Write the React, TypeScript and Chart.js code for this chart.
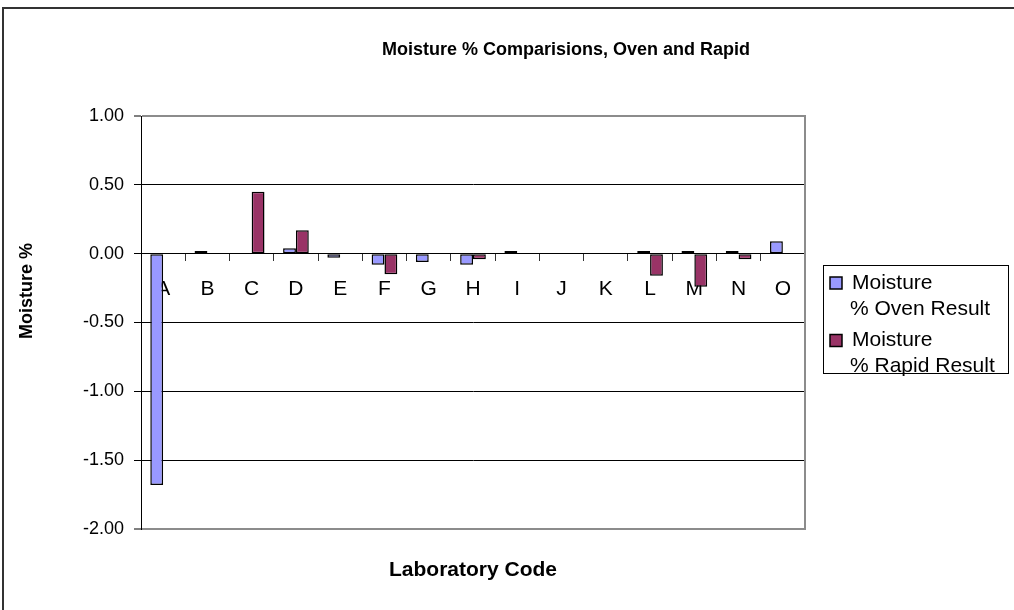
import React, { useEffect, useRef } from 'react';
import { Chart, registerables } from 'chart.js';

Chart.register(...registerables);

const categories = ['A', 'B', 'C', 'D', 'E', 'F', 'G', 'H', 'I', 'J', 'K', 'L', 'M', 'N', 'O'];
const ovenValues = [-1.68, 0.02, null, 0.04, -0.03, -0.08, -0.06, -0.08, 0.02, null, null, 0.02, 0.02, 0.02, 0.09];
const rapidValues = [null, null, 0.45, 0.17, null, -0.15, null, -0.04, null, null, null, -0.16, -0.24, -0.04, null];
const yTickValues = [1, 0.5, 0, -0.5, -1, -1.5, -2];
const seriesNames = ['Moisture % Oven Result', 'Moisture % Rapid Result'];
const legendLines = [
  ['Moisture', '% Oven Result'],
  ['Moisture', '% Rapid Result'],
];
const chartTitle = 'Moisture % Comparisions, Oven and Rapid';
const xTitle = 'Laboratory Code';
const yTitle = 'Moisture %';

const FONT = "'Liberation Sans', Arial, sans-serif";
const OVEN_COLOR = '#9999FF';
const RAPID_COLOR = '#993366';

const decorPlugin = {
  id: 'decor',
  beforeDatasetsDraw(chart: any) {
    const { ctx, chartArea: a } = chart;
    ctx.save();
    ctx.strokeStyle = '#8c8c8c';
    ctx.lineWidth = 2;
    ctx.beginPath();
    ctx.moveTo(a.right, a.top - 1);
    ctx.lineTo(a.right, a.bottom + 1);
    ctx.stroke();
    ctx.restore();
  },
  afterDraw(chart: any) {
    const { ctx, chartArea: a } = chart;
    ctx.save();
    // outer frame
    ctx.strokeStyle = '#333';
    ctx.lineWidth = 2;
    ctx.strokeRect(3, 8, 1200, 800);

    ctx.fillStyle = '#000';
    ctx.textAlign = 'center';
    ctx.textBaseline = 'middle';
    ctx.font = `bold 18px ${FONT}`;
    ctx.fillText(chartTitle, 566, 50);

    ctx.font = `bold 21px ${FONT}`;
    ctx.fillText(xTitle, (a.left + a.right) / 2, 570);

    ctx.font = `bold 18px ${FONT}`;
    ctx.save();
    ctx.translate(27, 291);
    ctx.rotate(-Math.PI / 2);
    ctx.fillText(yTitle, 0, 0);
    ctx.restore();

    // legend
    const lx = 823, ly = 265, lw = 185, lh = 108;
    ctx.strokeStyle = '#000';
    ctx.lineWidth = 1;
    ctx.strokeRect(lx + 0.5, ly + 0.5, lw, lh);
    ctx.textAlign = 'left';
    ctx.font = `21px ${FONT}`;
    const ds = chart.data.datasets;
    ds.forEach((d: any, i: number) => {
      const cy = 283 + i * 57.5;
      ctx.fillStyle = d.backgroundColor;
      ctx.fillRect(lx + 7, cy - 6, 12, 12);
      ctx.strokeStyle = '#000';
      ctx.lineWidth = 1.5;
      ctx.strokeRect(lx + 7, cy - 6, 12, 12);
      ctx.fillStyle = '#000';
      ctx.fillText(legendLines[i][0], lx + 29, cy);
      ctx.fillText(legendLines[i][1], lx + 27, cy + 26);
    });
    ctx.restore();
  },
};

export default function App() {
  const ref = useRef<HTMLCanvasElement>(null);
  useEffect(() => {
    document.body.style.margin = '0';
    const chart = new Chart(ref.current as HTMLCanvasElement, {
      type: 'bar',
      data: {
        labels: categories,
        datasets: [
          {
            label: seriesNames[0],
            data: ovenValues,
            backgroundColor: OVEN_COLOR,
            borderColor: '#000',
            borderWidth: 1.5,
            borderSkipped: false,
            categoryPercentage: 0.58,
            barPercentage: 1,
          },
          {
            label: seriesNames[1],
            data: rapidValues,
            backgroundColor: RAPID_COLOR,
            borderColor: '#000',
            borderWidth: 1.5,
            borderSkipped: false,
            categoryPercentage: 0.58,
            barPercentage: 1,
          },
        ],
      },
      options: {
        animation: false,
        responsive: false,
        devicePixelRatio: 1,
        layout: { padding: { left: 0, top: 116, right: 209, bottom: 81 } },
        plugins: {
          legend: { display: false },
          title: { display: false },
          tooltip: { enabled: false },
        },
        scales: {
          x: {
            position: { y: 0 } as any,
            z: 1,
            grid: {
              drawOnChartArea: false,
              drawTicks: true,
              tickLength: 7,
              color: '#333',
              offset: true,
            },
            border: { color: '#000', width: 1 },
            ticks: {
              color: '#000',
              font: { family: FONT, size: 21 },
              padding: 16,
              maxRotation: 0,
              autoSkip: false,
            },
          },
          y: {
            min: -2,
            max: 1,
            afterBuildTicks: (s: any) => {
              s.ticks = yTickValues.map((v) => ({ value: v }));
            },
            afterFit: (s: any) => {
              s.width = 141;
            },
            grid: {
              color: (c: any) =>
                c.tick && (c.tick.value === 1 || c.tick.value === -2) ? '#8c8c8c' : '#000',
              lineWidth: (c: any) =>
                c.tick && (c.tick.value === 1 || c.tick.value === -2) ? 2 : 1,
              tickColor: '#000',
              tickLength: 7,
              tickWidth: 1,
            },
            border: { color: '#000', width: 1 },
            ticks: {
              color: '#000',
              font: { family: FONT, size: 18 },
              padding: 10,
              callback: (v: any) => Number(v).toFixed(2),
            },
          },
        },
      },
      plugins: [decorPlugin],
    });
    return () => chart.destroy();
  }, []);
  return (
    <div style={{ width: 1014, height: 610, overflow: 'hidden', background: '#fff' }}>
      <canvas ref={ref} width={1014} height={610} style={{ display: 'block' }} />
    </div>
  );
}
